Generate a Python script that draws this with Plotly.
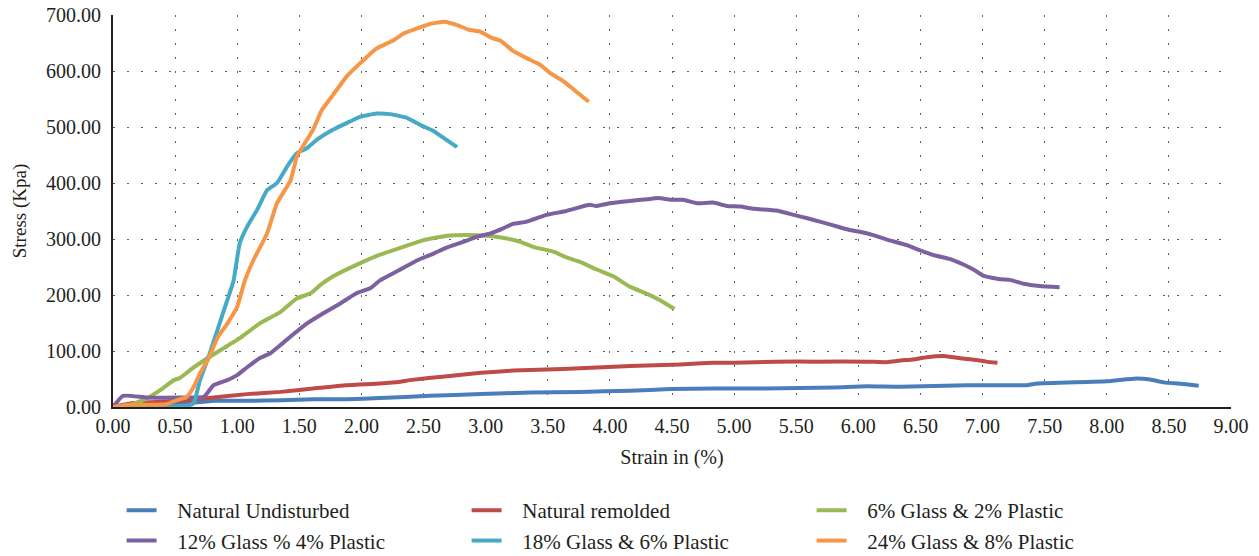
import plotly.graph_objects as go

# Strain (%) and stress (kPa) readings for each mix
undisturbed_x = [0.0, 0.27, 0.62, 0.81, 1.08, 1.35, 1.61, 1.88, 2.15, 2.55, 2.96, 3.36, 3.76, 4.16, 4.49, 4.83,
                 5.26, 5.80, 6.07, 6.34, 6.87, 7.36, 7.44, 8.00, 8.24, 8.35, 8.46, 8.62, 8.74]
undisturbed_y = [0, 1, 7, 11, 11, 12, 14, 14, 16, 20, 23, 26, 27, 29, 32, 33,
                 33, 35, 37, 36, 39, 39, 42, 46, 51, 49, 44, 41, 38]

remolded_x = [0.0, 0.16, 0.54, 0.81, 1.08, 1.35, 1.61, 1.88, 2.15, 2.31, 2.39, 2.69, 2.96, 3.22, 3.49, 3.76,
              4.03, 4.30, 4.57, 4.83, 5.00, 5.34, 5.67, 6.07, 6.23, 6.34, 6.44, 6.55, 6.69, 6.82, 6.95, 7.03, 7.12]
remolded_y = [0, 7, 11, 17, 23, 27, 33, 39, 42, 45, 48, 55, 61, 65, 67, 69,
              72, 74, 76, 79, 79, 81, 81, 81, 80, 83, 85, 89, 91, 87, 84, 81, 79]

g6p2_x = [0.0, 0.14, 0.27, 0.38, 0.49, 0.54, 0.62, 0.76, 0.89, 1.02, 1.18, 1.35, 1.48, 1.59, 1.67, 1.77,
          1.99, 2.15, 2.31, 2.50, 2.69, 2.85, 3.01, 3.17, 3.28, 3.38, 3.55, 3.65, 3.76, 3.89, 4.03, 4.16,
          4.30, 4.40, 4.52]
g6p2_y = [0, 4, 15, 30, 48, 52, 66, 87, 105, 123, 149, 170, 194, 203, 218, 233,
          257, 272, 284, 298, 306, 307, 306, 301, 295, 286, 277, 267, 259, 246, 233, 215,
          202, 191, 175]

g12p4_x = [0.0, 0.08, 0.27, 0.54, 0.73, 0.81, 0.92, 1.00, 1.08, 1.18, 1.26, 1.35, 1.43, 1.56, 1.69, 1.83,
           1.96, 2.07, 2.15, 2.31, 2.45, 2.58, 2.69, 2.82, 2.93, 3.04, 3.14, 3.22, 3.33, 3.49, 3.65, 3.76,
           3.84, 3.89, 4.00, 4.16, 4.30, 4.39, 4.49, 4.59, 4.70, 4.83, 4.94, 5.05, 5.16, 5.34, 5.48, 5.59,
           5.69, 5.85, 5.93, 6.01, 6.12, 6.23, 6.39, 6.47, 6.61, 6.74, 6.85, 6.93, 7.01, 7.14, 7.22, 7.33,
           7.46, 7.62]
g12p4_y = [0, 20, 17, 17, 18, 39, 48, 57, 71, 87, 95, 111, 126, 149, 167, 185,
           203, 212, 226, 245, 262, 274, 285, 295, 304, 310, 319, 327, 331, 343, 350, 357,
           361, 359, 364, 368, 371, 373, 370, 370, 364, 365, 359, 358, 354, 351, 343, 337,
           331, 321, 316, 313, 307, 299, 289, 282, 271, 264, 254, 245, 234, 228, 227, 220,
           216, 214]

g18p6_x = [0.0, 0.30, 0.59, 0.65, 0.70, 0.77, 0.84, 0.92, 0.97, 1.02, 1.08, 1.16, 1.24, 1.32, 1.40, 1.48,
           1.56, 1.64, 1.77, 1.88, 1.99, 2.12, 2.23, 2.37, 2.47, 2.58, 2.69, 2.77]
g18p6_y = [0, 1, 2, 7, 48, 90, 137, 191, 225, 292, 322, 352, 387, 400, 429, 453,
           462, 477, 495, 507, 518, 524, 523, 516, 504, 493, 476, 464]

g24p8_x = [0.0, 0.14, 0.43, 0.51, 0.59, 0.65, 0.70, 0.77, 0.84, 0.92, 1.00, 1.06, 1.13, 1.24, 1.32, 1.43,
           1.48, 1.61, 1.68, 1.77, 1.88, 1.99, 2.12, 2.26, 2.34, 2.45, 2.55, 2.67, 2.77, 2.86, 2.96, 3.04,
           3.12, 3.22, 3.33, 3.44, 3.52, 3.63, 3.73, 3.83]
g24p8_y = [0, 4, 5, 12, 17, 36, 60, 87, 123, 149, 179, 225, 262, 310, 364, 405,
           447, 495, 530, 557, 590, 614, 640, 655, 667, 676, 684, 688, 682, 674, 670, 660,
           654, 636, 623, 611, 596, 581, 563, 545]

series_names = ["Natural Undisturbed", "Natural remolded", "6% Glass & 2% Plastic",
                "12% Glass % 4% Plastic", "18% Glass & 6% Plastic", "24% Glass & 8% Plastic"]
series_colors = ["#4A7EBB", "#BE4B48", "#98B954", "#7D60A0", "#46AAC5", "#F79646"]
series_x = [undisturbed_x, remolded_x, g6p2_x, g12p4_x, g18p6_x, g24p8_x]
series_y = [undisturbed_y, remolded_y, g6p2_y, g12p4_y, g18p6_y, g24p8_y]

x_ticks = [i * 0.5 for i in range(19)]
y_ticks = [i * 100 for i in range(8)]

FONT = "Liberation Serif"
TEXT = "#231F20"
LEGEND_PAD = "\u00a0\u00a0\u00a0"  # extra gap between legend swatch and label

fig = go.Figure()
for name, color, xs, ys in zip(series_names, series_colors, series_x, series_y):
    fig.add_trace(go.Scatter(
        x=xs, y=ys, name=LEGEND_PAD + name, mode="lines",
        line=dict(color=color, width=4, shape="spline", smoothing=0.4),
    ))

fig.update_layout(
    width=1259, height=556,
    margin=dict(l=113, r=28, t=15, b=149, autoexpand=False),
    paper_bgcolor="white", plot_bgcolor="white",
    font=dict(family=FONT, size=20, color=TEXT),
    showlegend=True,
    legend=dict(
        orientation="h", x=0.0077, xanchor="left", y=-0.212, yanchor="top",
        entrywidth=300, entrywidthmode="pixels", itemwidth=30,
        font=dict(family=FONT, size=21, color=TEXT),
        traceorder="normal",
    ),
)

grid_style = dict(showgrid=True, gridcolor="#606060", gridwidth=1.4, griddash="1.5px,12.5px")

fig.update_xaxes(
    range=[0, 9], tickvals=x_ticks, ticktext=[f"{v:.2f}" for v in x_ticks],
    showline=True, linecolor=TEXT, linewidth=2, zeroline=False,
    ticks="", tickfont=dict(size=20),
    title=dict(text="Strain in (%)", font=dict(size=20), standoff=14),
    **grid_style,
)
fig.update_yaxes(
    range=[0, 700], tickvals=y_ticks, ticktext=[f"{v:.2f}" for v in y_ticks],
    showline=True, linecolor=TEXT, linewidth=2, zeroline=False,
    ticks="outside", ticklen=6, tickcolor="rgba(0,0,0,0)", tickfont=dict(size=20),
    title=dict(text="Stress (Kpa)", font=dict(size=19), standoff=14),
    **grid_style,
)

fig.write_html("out.html")
